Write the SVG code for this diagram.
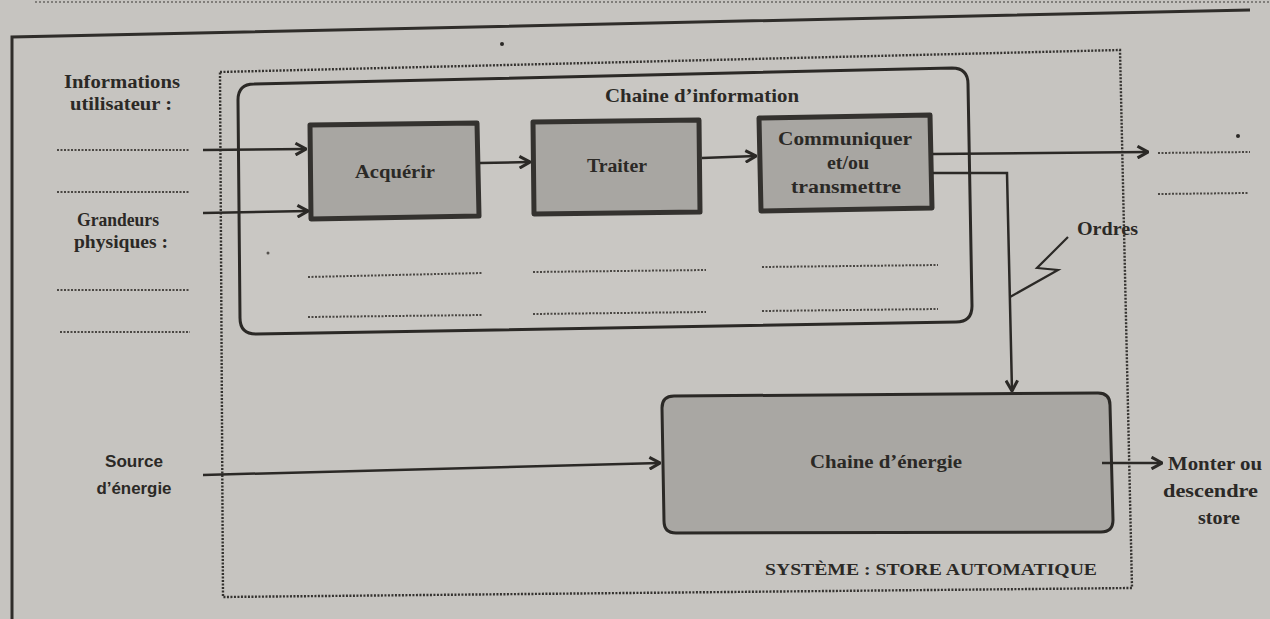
<svg xmlns="http://www.w3.org/2000/svg" width="1270" height="619" viewBox="0 0 1270 619">
<style>
.t{font-family:"Liberation Serif","DejaVu Serif",serif;font-weight:bold;fill:#2b2926;}
.s{font-family:"Liberation Sans","DejaVu Sans",sans-serif;font-weight:bold;fill:#2b2926;}
.c{text-anchor:middle;}
.box{fill:#a8a6a2;stroke:#34322f;stroke-width:5;stroke-linejoin:round;}
.ln{fill:none;stroke:#2b2926;stroke-width:2.5;}
.dot{fill:none;stroke:#4a4743;stroke-width:2;stroke-dasharray:2 1.5;}
</style>
<defs>
<marker id="ah" viewBox="0 0 12 12" refX="11" refY="6" markerWidth="14" markerHeight="14" markerUnits="userSpaceOnUse" orient="auto">
<path d="M2,1 L11,6 L2,11" fill="none" stroke="#2b2926" stroke-width="2.6" stroke-linejoin="miter"/>
</marker>
</defs>
<rect width="1270" height="619" fill="#c6c4c0"/>
<g id="page-frame">
<line x1="35" y1="2" x2="1270" y2="2" stroke="#6a6763" stroke-width="1.5" stroke-dasharray="2 2"/>
<path d="M12,619 L12,37 L1250,10" fill="none" stroke="#2f2d2a" stroke-width="3"/>
</g>
<g id="systeme">
<path d="M220,72 L1120,50 L1132,588 L223,597 Z" fill="none" stroke="#34322f" stroke-width="2.4" stroke-dasharray="2 1.5"/>
<text class="t" x="765" y="575" textLength="332" lengthAdjust="spacingAndGlyphs" style="font-weight:bold;font-size:17px">SYSTÈME : STORE AUTOMATIQUE</text>
</g>
<g id="chaine-information">
<path d="M254,84 L952,68 Q968,68 968,84 L972,306 Q972,322 956,322 L256,334 Q240,334 240,318 L238,100 Q238,84 254,84 Z" fill="#c9c7c3" stroke="#2b2926" stroke-width="3"/>
<text class="t c" x="702" y="102" textLength="194" lengthAdjust="spacingAndGlyphs" style="font-size:19px">Chaine d’information</text>
</g>
<g id="acquerir">
<path class="box" d="M310,125 L477,123 L479,216 L311,219 Z"/>
<text class="t c" x="395" y="178" textLength="80" lengthAdjust="spacingAndGlyphs" style="font-size:18px">Acquérir</text>
</g>
<g id="traiter">
<path class="box" d="M533,122 L699,120 L700,212 L534,214 Z"/>
<text class="t c" x="617" y="172" textLength="60" lengthAdjust="spacingAndGlyphs" style="font-size:18px">Traiter</text>
</g>
<g id="communiquer">
<path class="box" d="M759,118 L930,115 L932,208 L761,211 Z"/>
<text class="t c" x="845" y="145" textLength="134" lengthAdjust="spacingAndGlyphs" style="font-size:18px">Communiquer</text>
<text class="t c" x="848" y="169" textLength="42" lengthAdjust="spacingAndGlyphs" style="font-size:18px">et/ou</text>
<text class="t c" x="846" y="193" textLength="110" lengthAdjust="spacingAndGlyphs" style="font-size:18px">transmettre</text>
</g>
<g id="chaine-energie">
<path d="M674,396 L1098,393 Q1110,393 1110,405 L1113,520 Q1113,532 1101,532 L676,533 Q664,533 664,521 L662,408 Q662,396 674,396 Z" fill="#a9a7a3" stroke="#2b2926" stroke-width="3"/>
<text class="t c" x="886" y="468" textLength="152" lengthAdjust="spacingAndGlyphs" style="font-size:18px">Chaine d’énergie</text>
</g>
<g id="entrees">
<text class="t c" x="122" y="88" textLength="116" lengthAdjust="spacingAndGlyphs" style="font-size:18px">Informations</text>
<text class="t c" x="121" y="110" textLength="102" lengthAdjust="spacingAndGlyphs" style="font-size:18px">utilisateur :</text>
<text class="t c" x="118" y="226" textLength="82" lengthAdjust="spacingAndGlyphs" style="font-size:19px">Grandeurs</text>
<text class="t c" x="121" y="248" textLength="94" lengthAdjust="spacingAndGlyphs" style="font-size:18px">physiques :</text>
<text class="s c" x="134" y="467" textLength="58" lengthAdjust="spacingAndGlyphs" style="font-size:16px">Source</text>
<text class="s c" x="134" y="494" textLength="75" lengthAdjust="spacingAndGlyphs" style="font-size:16px">d’énergie</text>
</g>
<g id="sortie">
<text class="t" x="1168" y="470" textLength="94" lengthAdjust="spacingAndGlyphs" style="font-size:18px">Monter ou</text>
<text class="t" x="1163" y="497" textLength="95" lengthAdjust="spacingAndGlyphs" style="font-size:18px">descendre</text>
<text class="t" x="1198" y="524" textLength="42" lengthAdjust="spacingAndGlyphs" style="font-size:18px">store</text>
</g>
<g id="ordres">
<text class="t" x="1077" y="235" textLength="61" lengthAdjust="spacingAndGlyphs" style="font-size:18px">Ordres</text>
<path d="M1010,297 L1058,270 L1037,268 L1068,237" fill="none" stroke="#2b2926" stroke-width="2.2"/>
</g>
<g id="lignes-pointillees">
<line class="dot" x1="57" y1="150" x2="190" y2="150"/>
<line class="dot" x1="57" y1="192" x2="190" y2="192"/>
<line class="dot" x1="57" y1="290" x2="190" y2="290"/>
<line class="dot" x1="60" y1="332" x2="190" y2="332"/>
<line class="dot" x1="308" y1="277" x2="482" y2="273"/>
<line class="dot" x1="308" y1="317" x2="482" y2="315"/>
<line class="dot" x1="533" y1="272" x2="706" y2="270"/>
<line class="dot" x1="533" y1="314" x2="706" y2="312"/>
<line class="dot" x1="762" y1="267" x2="938" y2="265"/>
<line class="dot" x1="762" y1="311" x2="938" y2="309"/>
<line class="dot" x1="1158" y1="153" x2="1250" y2="152"/>
<line class="dot" x1="1158" y1="194" x2="1248" y2="193"/>
</g>
<g id="connecteurs">
<line class="ln" x1="203" y1="150" x2="306" y2="149" marker-end="url(#ah)"/>
<line class="ln" x1="203" y1="213" x2="308" y2="211" marker-end="url(#ah)"/>
<line class="ln" x1="480" y1="163" x2="530" y2="162" marker-end="url(#ah)"/>
<line class="ln" x1="702" y1="158" x2="756" y2="156" marker-end="url(#ah)"/>
<line class="ln" x1="933" y1="154" x2="1148" y2="152" marker-end="url(#ah)"/>
<polyline class="ln" points="933,173 1007,173 1012,391" marker-end="url(#ah)"/>
<line class="ln" x1="203" y1="475" x2="660" y2="463" marker-end="url(#ah)"/>
<line class="ln" x1="1102" y1="463" x2="1162" y2="463" marker-end="url(#ah)"/>
</g>
<g id="marques">
<circle cx="502" cy="44" r="2" fill="#2b2926"/>
<circle cx="1238" cy="136" r="2" fill="#2b2926"/>
<circle cx="268" cy="253" r="1.5" fill="#55524e"/>
</g>
</svg>
